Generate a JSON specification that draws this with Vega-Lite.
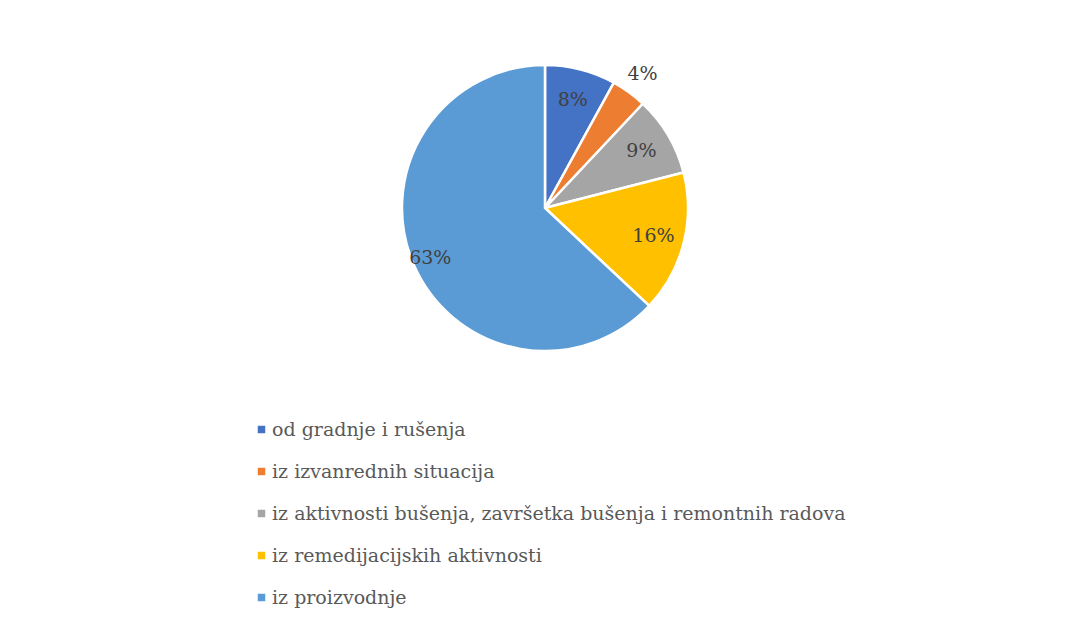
{
  "$schema": "https://vega.github.io/schema/vega-lite/v6.json",
  "width": 286,
  "height": 286,
  "autosize": "none",
  "padding": {"left": 402, "top": 65, "right": 383, "bottom": 273},
  "background": "white",
  "config": {"view": {"stroke": null}, "font": "DejaVu Serif"},
  "data": {
    "values": [
      {"category": "od gradnje i rušenja", "value": 8, "label": "8%", "ord": 1},
      {"category": "iz izvanrednih situacija", "value": 4, "label": "4%", "ord": 2},
      {"category": "iz aktivnosti bušenja, završetka bušenja i remontnih radova", "value": 9, "label": "9%", "ord": 3},
      {"category": "iz remedijacijskih aktivnosti", "value": 16, "label": "16%", "ord": 4},
      {"category": "iz proizvodnje", "value": 63, "label": "63%", "ord": 5}
    ]
  },
  "encoding": {
    "theta": {"field": "value", "type": "quantitative", "stack": true},
    "order": {"field": "ord", "type": "quantitative"}
  },
  "layer": [
    {
      "mark": {"type": "arc", "outerRadius": 143, "stroke": "white", "strokeWidth": 2.5},
      "encoding": {
        "color": {
          "field": "category",
          "type": "nominal",
          "scale": {
            "domain": ["od gradnje i rušenja", "iz izvanrednih situacija", "iz aktivnosti bušenja, završetka bušenja i remontnih radova", "iz remedijacijskih aktivnosti", "iz proizvodnje"],
            "range": ["#4472C4", "#ED7D31", "#A5A5A5", "#FFC000", "#5B9BD5"]
          },
          "legend": {
            "title": null,
            "orient": "none",
            "legendX": -150,
            "legendY": 355,
            "direction": "vertical",
            "symbolType": "square",
            "symbolSize": 56,
            "symbolStrokeWidth": 0,
            "labelFont": "DejaVu Serif",
            "labelFontSize": 19,
            "labelColor": "#595959",
            "labelOffset": 1,
            "labelLimit": 800,
            "rowPadding": 22
          }
        }
      }
    },
    {
      "mark": {"type": "text", "radius": 112, "fontSize": 19, "color": "#404040", "font": "DejaVu Serif"},
      "encoding": {
        "text": {"field": "label", "type": "nominal"},
        "opacity": {"condition": {"test": "datum.ord <= 4 && datum.ord != 2", "value": 1}, "value": 0}
      }
    },
    {
      "mark": {"type": "text", "radius": 166, "fontSize": 19, "color": "#404040", "font": "DejaVu Serif"},
      "encoding": {
        "text": {"field": "label", "type": "nominal"},
        "opacity": {"condition": {"test": "datum.ord == 2", "value": 1}, "value": 0}
      }
    },
    {
      "mark": {"type": "text", "radius": 125, "fontSize": 19, "color": "#404040", "font": "DejaVu Serif"},
      "encoding": {
        "text": {"field": "label", "type": "nominal"},
        "opacity": {"condition": {"test": "datum.ord == 5", "value": 1}, "value": 0}
      }
    }
  ]
}
